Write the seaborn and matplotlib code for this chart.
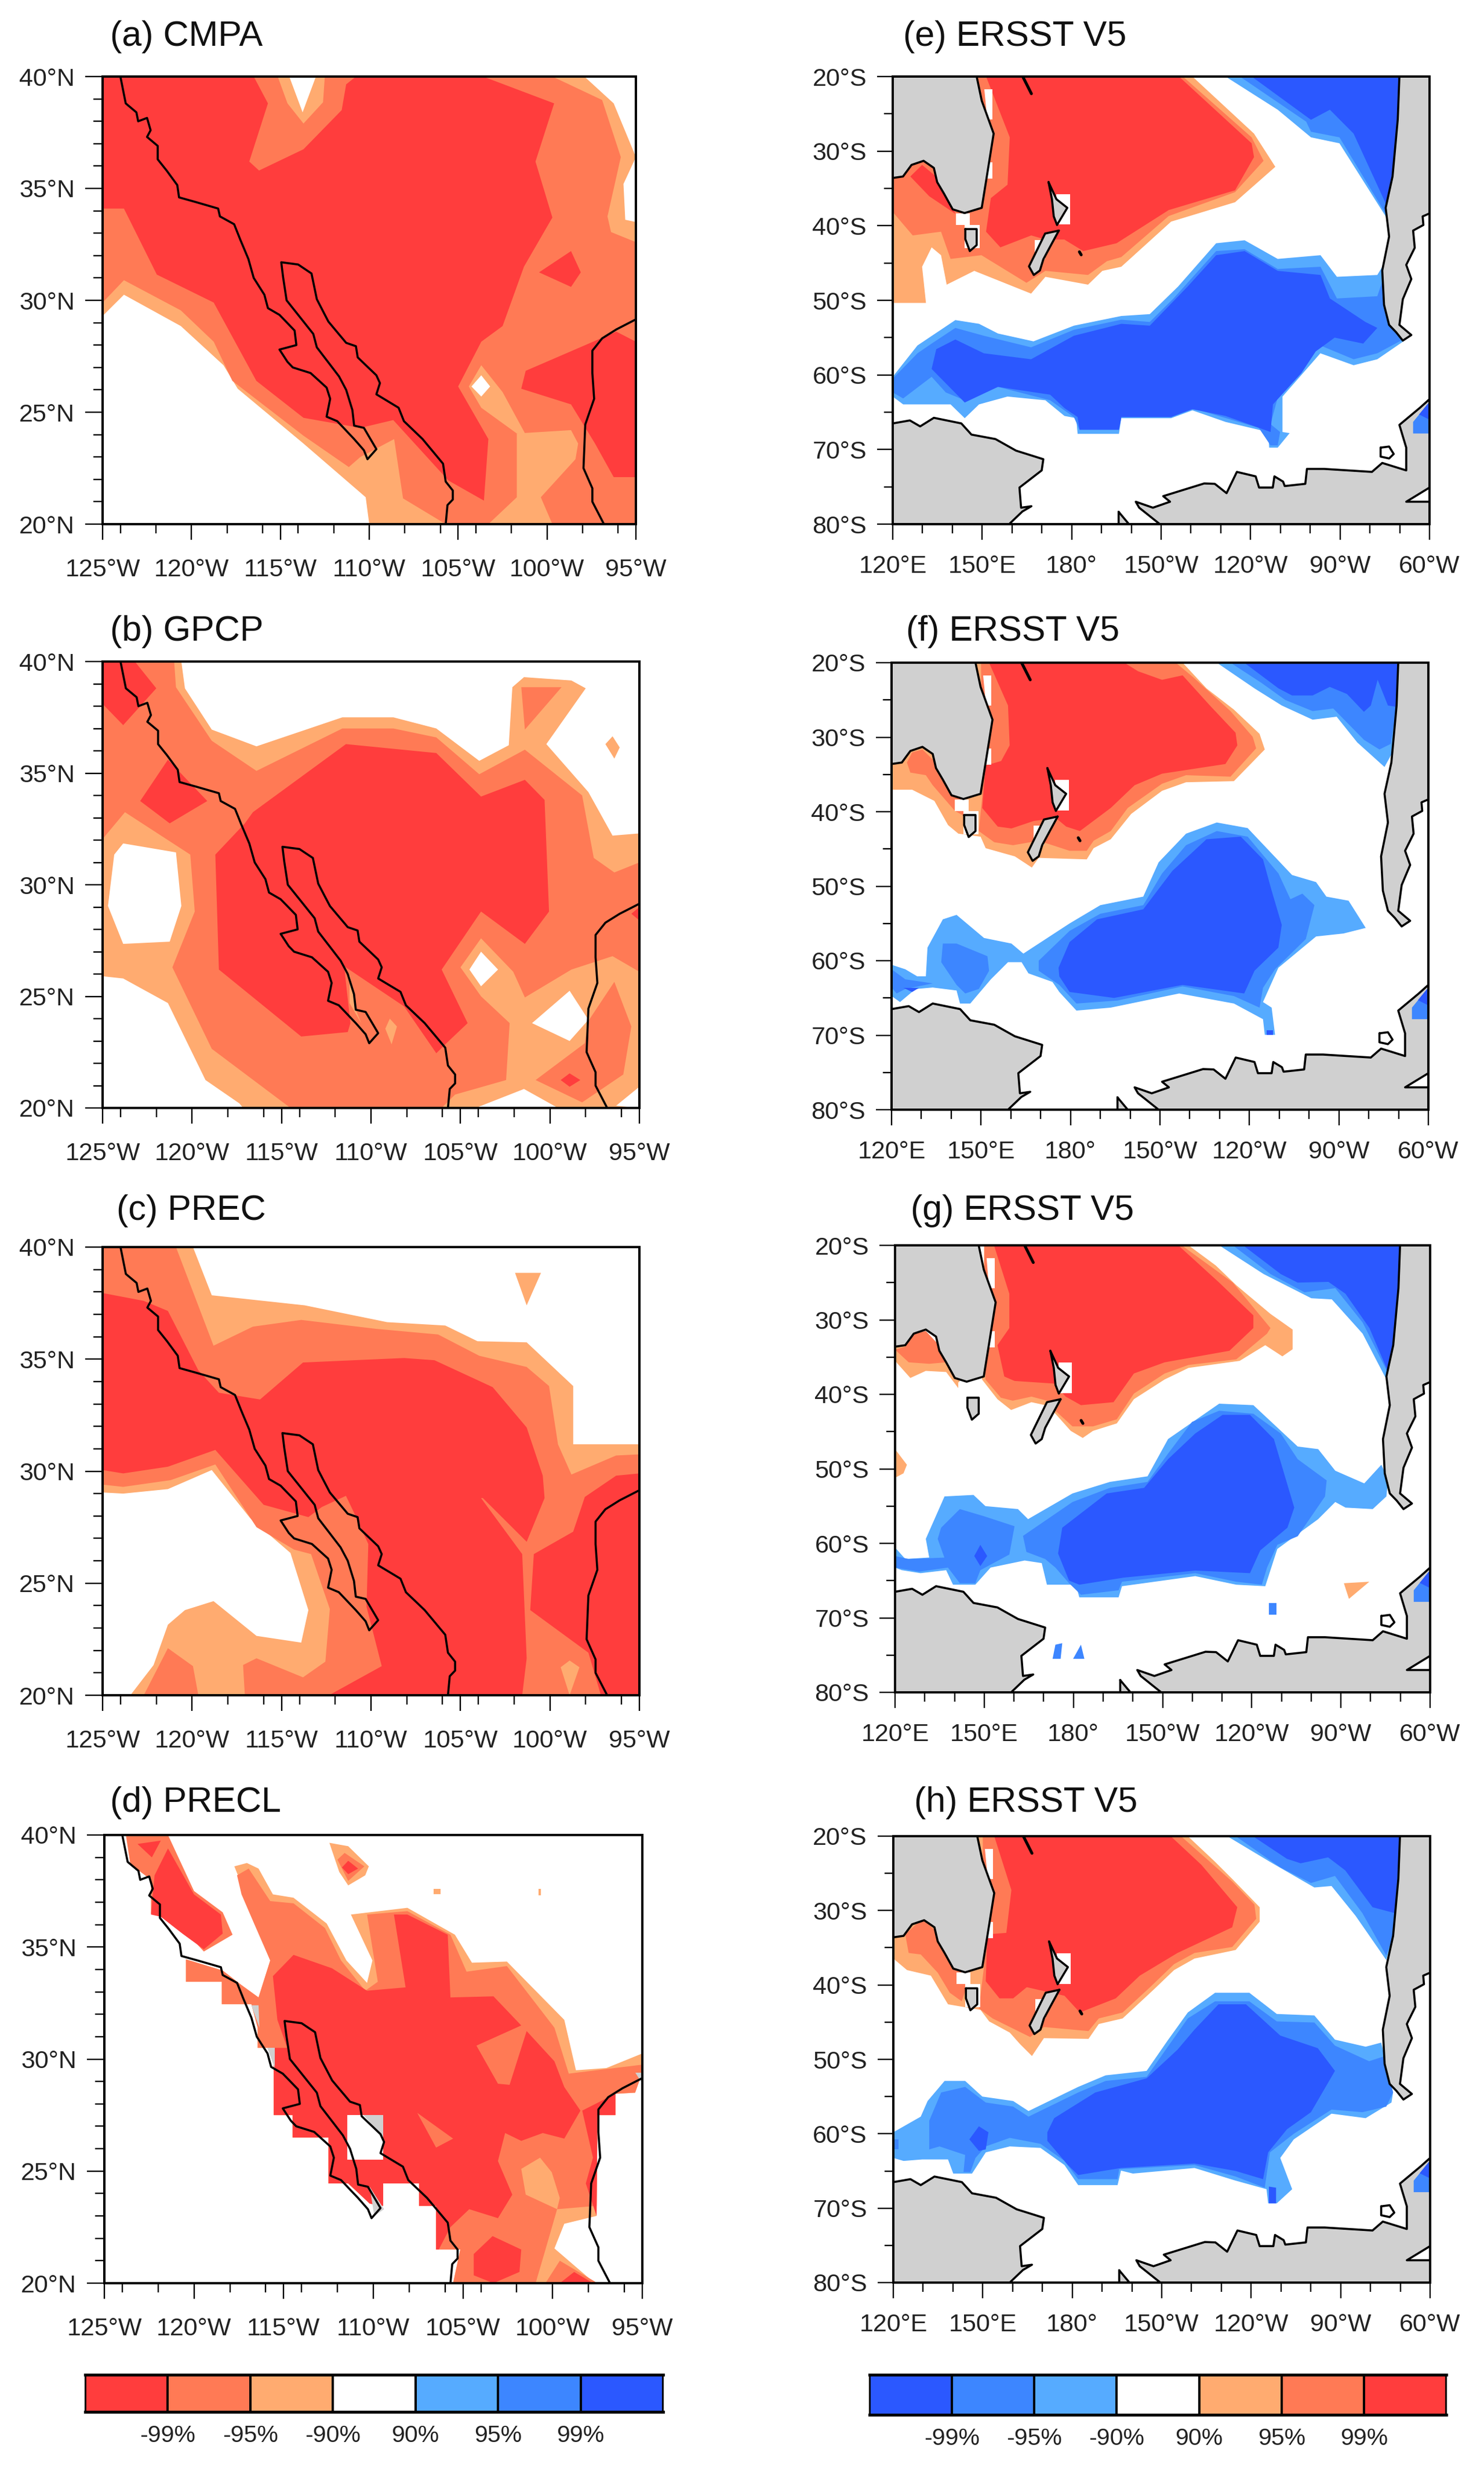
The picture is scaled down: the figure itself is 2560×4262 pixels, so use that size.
import matplotlib
matplotlib.use("Agg")
import matplotlib.pyplot as plt
from matplotlib.colors import ListedColormap
from matplotlib.ticker import FixedLocator
import numpy as np
import seaborn as sns

# significance colours
C99 = "#FF3D3D"; C95 = "#FF7A55"; C90 = "#FFAB70"
B90 = "#56ABFF"; B95 = "#3D86FF"; B99 = "#2B58FF"
WHITE = "#FFFFFF"; LAND = "#D0D0D0"

TITLES_LEFT = ["(a) CMPA", "(b) GPCP", "(c) PREC", "(d) PRECL"]
TITLES_RIGHT = ["(e) ERSST V5", "(f) ERSST V5", "(g) ERSST V5", "(h) ERSST V5"]
NA_XTICKS = [-125, -120, -115, -110, -105, -100, -95]
NA_XLABELS = ["125°W", "120°W", "115°W", "110°W", "105°W", "100°W", "95°W"]
NA_XMINOR = [-124, -122, -118, -116, -114, -112, -108, -106, -104, -102, -98, -96]
NA_YTICKS = [20, 25, 30, 35, 40]
NA_YLABELS = ["20°N", "25°N", "30°N", "35°N", "40°N"]
SP_XTICKS = [120, 150, 180, 210, 240, 270, 300]
SP_XLABELS = ["120°E", "150°E", "180°", "150°W", "120°W", "90°W", "60°W"]
SP_YTICKS = [-80, -70, -60, -50, -40, -30, -20]
SP_YLABELS = ["80°S", "70°S", "60°S", "50°S", "40°S", "30°S", "20°S"]
CB_LEFT = [C99, C95, C90, WHITE, B90, B95, B99]
CB_RIGHT = [B99, B95, B90, WHITE, C90, C95, C99]
CB_LABELS = ["-99%", "-95%", "-90%", "90%", "95%", "99%"]

# ---------- coastlines, North America (lon, lat) ----------
NA_WEST_COAST = [(-124.0,40.0),(-123.8,39.2),(-123.7,38.8),(-123.1,38.4),(-123.0,38.0),(-122.5,38.15),(-122.3,37.6),(-122.5,37.3),(-121.9,36.9),(-121.9,36.3),(-121.4,35.8),(-120.8,35.15),(-120.7,34.6),(-119.8,34.4),(-118.5,34.1),(-118.4,33.75),(-117.6,33.4),(-117.25,32.7),(-116.8,31.85),(-116.5,31.0),(-115.9,30.25),(-115.7,29.65),(-115.05,29.35),(-114.2,28.65),(-114.1,28.0),(-115.05,27.8),(-114.6,27.25),(-114.3,27.0),(-113.3,26.75),(-112.4,26.1),(-112.2,25.6),(-112.4,24.8),(-111.8,24.6),(-110.85,23.8),(-110.3,23.3),(-110.1,22.9),(-109.6,23.35),(-110.3,24.3),(-110.85,24.4),(-110.95,25.1),(-111.3,26.0),(-111.7,26.6),(-112.95,27.9),(-113.15,28.5),(-114.65,30.0),(-114.85,31.05),(-114.95,31.7),(-114.0,31.6),(-113.25,31.2),(-112.95,30.05),(-112.3,29.05),(-111.3,28.1),(-110.75,27.95),(-110.65,27.45),(-109.6,26.65),(-109.4,26.3),(-109.6,25.8),(-108.35,25.2),(-108.05,24.6),(-107.0,23.8),(-105.85,22.7),(-105.7,21.9),(-105.3,21.5),(-105.3,21.1),(-105.6,20.85),(-105.7,20.0)]
NA_EAST_COAST = [(-95.0,29.15),(-96.1,28.7),(-96.9,28.3),(-97.45,27.75),(-97.45,26.75),(-97.35,25.6),(-97.85,24.45),(-97.95,22.5),(-97.45,21.6),(-97.45,21.0),(-96.8,20.0)]

# ---------- panel (a) contour outlines ----------
A_90 = [(-125,29.3),(-123.8,30.25),(-120.6,28.85),(-118.2,27.1),(-117.4,26.05),(-113.7,23.6),(-110.2,21.2),(-110,20),(-95,20),(-95,33.5),(-95.6,33.6),(-95.7,35.2),(-95,36.4),(-96.25,38.8),(-97.9,40),(-125,40)]
A_95 = [(-125,40),(-115.15,40),(-114.6,38.8),(-113.7,37.9),(-112.6,38.85),(-112.5,40),(-99.7,40),(-96.9,38.95),(-95.85,36.4),(-96.6,33.75),(-96.4,33.05),(-95,32.6),(-95,20),(-99.7,20),(-100.35,21.2),(-98.4,22.9),(-98.25,23.6),(-98.65,24.2),(-101.7,24.05),(-101.7,21.2),(-103.3,20),(-105.7,20),(-108.1,21.15),(-108.6,23.8),(-110.5,23),(-111.15,22.55),(-113.7,23.95),(-117.7,26.4),(-118.75,28.15),(-120.6,29.55),(-123.8,30.9),(-125,29.9)]
A_90_INNER = [(-103.7,27.1),(-102.5,25.9),(-101.2,24.0),(-101.7,24.05),(-103.7,25.2),(-104.4,26.15)]
A_99 = [(-125,40),(-116.5,40),(-115.7,38.8),(-116.75,36.2),(-116.2,35.8),(-113.7,36.75),(-111.55,38.5),(-111.3,39.65),(-110.75,40),(-103.6,40),(-99.6,38.8),(-100.65,36.2),(-99.7,33.7),(-101.3,31.5),(-102.5,28.85),(-103.7,28.15),(-105,26.15),(-103.3,23.8),(-103.55,21.05),(-105.55,21.95),(-108.65,24.65),(-110.5,24.3),(-113.7,24.75),(-116.35,26.4),(-118.75,29.9),(-121.95,31.15),(-123.8,34.1),(-125,34.1)]
A_99_EAST = [(-95,28.15),(-96.1,28.6),(-101.2,26.85),(-101.45,26.05),(-98.65,25.35),(-97.3,23.6),(-96.25,22.1),(-95,22.1)]
A_99_SMALL = [(-98.65,32.2),(-100.45,31.25),(-98.65,30.6),(-98.1,31.25)]
A_NONE_TOP = [(-114.5,40),(-113.75,38.4),(-113,40)]
A_NONE_DIAMOND = [(-103.7,26.65),(-103.2,26.15),(-103.7,25.7),(-104.25,26.15)]

# ---------- panel (b) ----------
FULL_NA = [(-125,40),(-95,40),(-95,20),(-125,20)]
B_NONE_TOP = [(-120.6,40),(-120.4,38.8),(-118.9,36.95),(-116.4,36.2),(-111.6,37.5),(-108.75,37.5),(-106.35,37.0),(-103.95,35.55),(-102.3,36.25),(-102.1,38.85),(-101.45,39.3),(-98.8,39.15),(-98.0,38.8),(-100.2,36.3),(-97.85,34.15),(-96.5,32.2),(-95,32.3),(-95,40)]
B_90_DOT = [(-96.5,36.65),(-96.1,36.15),(-96.4,35.65),(-96.9,36.3)]
B_NONE_LEFT = [(-123.85,31.85),(-120.9,31.45),(-120.6,29.05),(-121.25,27.45),(-123.85,27.35),(-124.7,29.05),(-124.35,31.35)]
B_NONE_SW = [(-125,25.9),(-123.85,25.8),(-121.35,24.7),(-119.25,21.25),(-117.35,20.2),(-117.15,20),(-125,20)]
B_NONE_DIAMOND = [(-103.85,27),(-102.9,26.2),(-103.85,25.45),(-104.5,26.2)]
B_95 = [(-125,40),(-121,40),(-120.9,38.85),(-118.9,36.45),(-116.4,35.1),(-111.6,37),(-108.75,37),(-106.35,36.6),(-103.95,34.95),(-101.4,36.05),(-98.2,34),(-97.55,31.2),(-96.4,30.55),(-95,31),(-95,26.1),(-96.5,26.8),(-98.8,26.2),(-101.4,24.95),(-102.05,26.1),(-103.85,27.6),(-105,26.3),(-103.85,25),(-102.25,23.8),(-102.45,21.25),(-105.3,20.6),(-106.05,20),(-114.5,20),(-118.9,22.65),(-121.1,26.3),(-119.85,28.8),(-120.1,31.35),(-123.75,33.25),(-125,32.05)]
B_95_NOTCH = [(-101.6,38.85),(-99.35,38.85),(-101.4,36.95)]
B_95_SE = [(-96.4,25.65),(-95.45,23.65),(-95.9,21.5),(-98.2,20.25),(-100.8,21.25),(-98.05,22.9),(-97.85,23.9)]
B_NONE_SE = [(-98.9,25.25),(-97.85,23.95),(-98.9,23),(-101,23.8)]
B_NONE_S1 = [(-104.15,20),(-101.45,20.85),(-99.55,20)]
B_NONE_S2 = [(-96.3,20.1),(-95,20.95),(-95,20)]
B_99_NW = [(-125,40),(-123.2,40),(-122,38.8),(-123.85,37.15),(-125,38.1)]
B_99_W = [(-121.35,35.6),(-119.15,33.75),(-121.25,32.75),(-122.9,33.75)]
B_99_MAIN = [(-111.4,36.3),(-106.35,35.9),(-103.85,33.95),(-101.4,34.7),(-100.3,33.8),(-100.05,28.8),(-101.4,27.35),(-103.85,28.8),(-106.05,26.2),(-104.6,23.8),(-105.85,22.85),(-106.35,22.45),(-108.15,24.55),(-111.5,26.35),(-111.15,23.8),(-111.3,23.4),(-113.9,23.2),(-118.5,26.2),(-118.7,31.35),(-117.05,32.75),(-116.6,33.25)]
B_99_DOT = [(-98.9,21.55),(-98.3,21.25),(-98.9,20.95),(-99.4,21.25)]
B_99_E = [(-95,29),(-95.45,28.7),(-95,28.4)]
B_90_S1 = [(-108.95,24),(-108.55,23.65),(-108.85,22.85),(-109.2,23.55)]
B_90_S2 = [(-111.2,26),(-110.95,25.1),(-110.85,24.4),(-110.55,23.8),(-111.2,24.7)]

# ---------- panel (c) ----------
C_NONE_TOP = [(-119.95,40),(-118.9,37.85),(-113.7,37.4),(-109.1,36.65),(-105.85,36.5),(-104.05,35.8),(-101.3,35.75),(-98.7,33.8),(-98.7,31.2),(-95,31.2),(-95,40)]
C_90_DOT = [(-101.95,38.85),(-100.5,38.85),(-101.3,37.4)]
C_NONE_SW = [(-125,29.05),(-123.85,29),(-121.35,29.2),(-118.9,30.05),(-116.75,27.9),(-114.5,26.35),(-113.5,23.8),(-113.9,22.35),(-116.4,22.65),(-118.8,24.2),(-120.4,23.8),(-121.35,23.15),(-122.15,21.35),(-123.45,20),(-125,20)]
C_95 = [(-125,40),(-120.9,40),(-118.8,35.6),(-116.6,36.45),(-113.9,36.75),(-109.7,36.35),(-106.25,36.1),(-103.95,35.15),(-101.3,34.65),(-100.05,33.8),(-99.55,31.2),(-98.8,29.85),(-96.3,30.7),(-95,30.75),(-95,20),(-117.05,20),(-117.15,21.35),(-116.4,21.65),(-113.8,20.8),(-112.55,21.5),(-112.3,23.85),(-113.35,26.3),(-114.3,26.5),(-116.4,27.5),(-118.7,30.3),(-121.2,29.6),(-123.85,29.3),(-125,29.4)]
C_95_SW = [(-122.7,20),(-121.35,22.1),(-119.95,21.3),(-119.65,20)]
C_99_MAIN = [(-125,37.95),(-122.7,37.6),(-121.35,37.15),(-119.65,34.5),(-118.5,33.5),(-116.2,33.2),(-113.8,34.85),(-108.15,35.05),(-106.45,34.95),(-103.2,33.75),(-101.3,31.95),(-100.4,29.8),(-100.3,28.8),(-101.3,26.85),(-103.75,28.8),(-103.85,28.8),(-101.55,26.3),(-101.3,21.65),(-101.55,20),(-112.35,20),(-109.4,21.3),(-110.25,23.95),(-110.15,26.75),(-110.95,28.15),(-111.4,28.9),(-112.75,28.4),(-113.5,27.95),(-116,28.5),(-118.7,30.95),(-121.35,30.2),(-123.85,29.9),(-125,30.05)]
C_99_E = [(-95,29.9),(-96.3,29.8),(-98.05,28.85),(-98.7,27.3),(-100.9,26.3),(-101.1,23.8),(-97.85,21.9),(-97.15,20),(-95,20)]
C_90_S = [(-98.9,21.55),(-98.35,21.25),(-98.9,20),(-99.4,21.25)]

# ---------- panel (d) ----------
D_95_NW = [(-123.8,40),(-121.45,40),(-120,37.5),(-118.4,36.55),(-117.85,35.55),(-119.45,34.8),(-120.5,35.7),(-121.85,36.35),(-122.4,36.5),(-122.4,38),(-123.55,38.7)]
D_99_NW = [(-122.2,38.2),(-121.45,39.4),(-120,37.35),(-118.5,36.45),(-118.4,35.6),(-119.45,34.9),(-120.65,35.6),(-121.85,36.35),(-122.4,36.45)]
D_99_NW2 = [(-123.15,39.6),(-121.85,39.75),(-122.35,39)]
D_90_MAIN = [(-111.25,36.45),(-108.1,36.75),(-105.45,35.55),(-104.5,34.3),(-102.55,34.35),(-99.35,31.75),(-98.7,29.5),(-97,29.6),(-95,30.25),(-95,29.4),(-95.4,28.5),(-96.5,28.45),(-96.5,27.5),(-97.5,27.5),(-97.55,23),(-99.35,22.65),(-99.9,21.55),(-97.65,20),(-105.55,20),(-105.15,21.5),(-106.5,21.5),(-106.5,23.45),(-107.45,23.45),(-107.45,24.45),(-109.45,24.45),(-109.45,23.45),(-110.2,23.55),(-111.4,24.45),(-112.5,24.45),(-112.5,26.5),(-114.5,26.5),(-114.5,27.5),(-115.55,27.5),(-115.55,30.5),(-116.45,30.5),(-116.45,31.4),(-116.8,32.45),(-118.45,32.45),(-118.45,33.45),(-120.45,33.45),(-120.45,34.45),(-118.4,33.95),(-117.35,33.3),(-116.4,32.75),(-115.75,34.4),(-116,34.9),(-117.05,37.2),(-117.75,38.6),(-117.05,38.75),(-116.4,38.5),(-115.6,37.35),(-114.45,37.2),(-112.6,36.05),(-111.5,34.4),(-110.35,33.4),(-110.05,34.4)]
D_95_MAIN = [(-110.35,36.45),(-108.1,36.6),(-105.7,35.55),(-104.8,33.9),(-102.55,34.15),(-99.9,31.4),(-99.1,29.35),(-95,29.75),(-95,29.4),(-95.4,28.5),(-96.5,28.45),(-96.5,27.5),(-97.5,27.5),(-97.55,23.45),(-99.75,23.3),(-100.4,21.5),(-100.95,20),(-105.55,20),(-105.15,21.5),(-106.5,21.5),(-106.5,23.45),(-107.45,23.45),(-107.45,24.45),(-109.45,24.45),(-109.45,23.45),(-110.2,23.55),(-111.4,24.45),(-112.5,24.45),(-112.5,26.5),(-114.5,26.5),(-114.5,27.5),(-115.55,27.5),(-115.55,30.5),(-116.45,30.5),(-116.45,31.4),(-116.8,32.45),(-118.45,32.45),(-118.45,33.45),(-120.45,33.45),(-120.45,34.45),(-118.4,33.95),(-117.35,33.3),(-116.4,32.75),(-115.75,34.4),(-116.65,36.05),(-117.35,37.35),(-117.6,38.2),(-116.95,38.5),(-115.75,37.05),(-114.45,36.95),(-112.7,35.85),(-111.8,34.4),(-110.45,33.05),(-109.75,33.45)]
D_99_MAIN = [(-115.6,33.7),(-114.45,34.65),(-112.3,34.05),(-110.35,33.05),(-108.2,33.2),(-108.85,36.45),(-108.1,36.45),(-105.85,35.55),(-105.7,32.75),(-103.3,32.8),(-101.75,31.5),(-104.25,30.6),(-103.05,28.9),(-102.4,28.85),(-101.45,31.25),(-99.9,29.9),(-99.35,28.75),(-98.45,27.7),(-99.35,26.45),(-100.55,26.7),(-101.75,26.35),(-102.65,26.7),(-103.05,25.45),(-102.25,23.95),(-103.05,22.9),(-104.65,23.3),(-105.7,22.5),(-106.35,21.5),(-106.5,21.5),(-106.5,23.45),(-107.45,23.45),(-107.45,24.45),(-109.45,24.45),(-109.45,23.45),(-110.2,23.55),(-111.4,24.45),(-112.5,24.45),(-112.5,26.5),(-114.5,26.5),(-114.5,27.5),(-115.55,27.5),(-115.55,30.5),(-114.8,30.5),(-115.35,31.75)]
D_95_PATCH = [(-107.55,27.6),(-105.55,26.45),(-106.5,26.05)]
D_99_E = [(-98.35,27.7),(-96.5,28.45),(-96.5,27.5),(-97.5,27.5),(-97.55,23),(-98.15,24.45),(-97.75,25.6)]
D_NONE_HOLE = [(-111.45,27.5),(-109.45,27.5),(-109.45,25.5),(-111.45,25.5)]
D_LAND_1 = [(-110.55,27.5),(-109.45,27.5),(-109.45,26.5)]
D_LAND_2 = [(-110.2,24.3),(-109.4,23.3),(-109.95,23)]
D_LAND_3 = [(-116.8,32.4),(-116.4,32.4),(-116.35,31.4)]
D_LAND_4 = [(-115.9,30.5),(-115.5,30.5),(-115.5,29.6)]
D_LAND_5 = [(-95.4,29.4),(-95,29.4),(-95,28.9)]
D_90_ISLE = [(-112.45,39.65),(-111.4,39.5),(-110.25,38.6),(-110.45,38.2),(-111.4,37.75),(-111.9,38.35)]
D_95_ISLE = [(-111.6,39.2),(-110.5,38.6),(-111.4,37.95),(-112,38.9)]
D_99_ISLE = [(-111.4,38.85),(-110.85,38.5),(-111.4,38.25),(-111.75,38.55)]
D_90_DOT = [(-106.65,37.6),(-106.25,37.6),(-106.25,37.35),(-106.65,37.35)]
D_90_DOT2 = [(-100.8,37.6),(-100.65,37.6),(-100.65,37.3),(-100.8,37.3)]
D_90_SE = [(-101.75,25.1),(-100.7,25.6),(-100.05,24.95),(-99.6,23.8),(-99.75,23.3),(-101.5,23.95)]
D_99_S = [(-103.35,22.1),(-101.75,21.5),(-101.85,20.5),(-103.3,20),(-104.4,20.35),(-104.4,21.3)]
D_95_S2 = [(-100.4,20),(-99.6,21),(-97.6,20.05)]
D_99_S2 = [(-99.6,20),(-98.8,20.5),(-97.75,20)]

# ---------- land, South Pacific ----------
AUSTRALIA = [(120,-33.6),(123.45,-33.4),(126.3,-31.85),(130.35,-31.3),(133.8,-32.25),(134.9,-34.15),(137.2,-35.7),(140.1,-37.8),(144.1,-38.3),(149.85,-37.6),(151.55,-33.4),(153.85,-27.65),(149.85,-23.25),(148.15,-20),(120,-20)]
TASMANIA = [(144.35,-40.45),(148.15,-40.45),(148.15,-42.6),(145.85,-43.4),(144.35,-41.8)]
NZ_NORTH = [(172.25,-34.15),(174.9,-36.45),(178.55,-37.6),(175.1,-39.9),(174,-38.75),(173.4,-36.45)]
NZ_SOUTH = [(175.7,-40.65),(170.5,-44.5),(169.35,-46),(167.3,-46.6),(165.7,-45.45),(171.1,-41.05)]
S_AMERICA = [(289.9,-20),(289.35,-25.75),(287.6,-33.4),(285.3,-37.6),(286.45,-41.45),(284.15,-46),(284.75,-50.6),(286.45,-53.3),(288.75,-54.25),(291.05,-55.4),(293.9,-54.65),(289.9,-53.3),(291.05,-49.85),(293.9,-47.15),(292.2,-45.25),(295.05,-42.95),(294.5,-40.65),(297.95,-39.9),(297.7,-38.75),(300,-38.35),(300,-20)]
ANT_EAST = [(120,-66.5),(125.75,-66.1),(129.2,-66.9),(133.8,-65.75),(143,-66.5),(146.4,-68),(154.45,-68.6),(161.35,-70.15),(170.5,-71.3),(169.95,-72.8),(162.5,-75.1),(163.05,-77.8),(166.5,-77.6),(163.5,-78.3),(159.05,-80),(120,-80)]
ANT_WEST = [(209.55,-80),(202.65,-77.8),(201.5,-77),(207.25,-77.8),(213,-77),(210.7,-76.25),(224.45,-74.55),(228,-74.6),(231.95,-75.85),(235.4,-73),(241.7,-73.6),(242.85,-75.1),(247.45,-75.1),(248,-73.6),(250.9,-74.3),(251.45,-74.9),(258.35,-74.6),(258.9,-72.6),(264.65,-72.6),(280.7,-73),(284.15,-71.8),(292.2,-72.8),(292.2,-69.75),(289.9,-66.7),(296.8,-64.4),(300,-63.25),(300,-75.1),(292.2,-77),(300,-77),(300,-80)]
ROSS_ISLE = [(195.75,-78.35),(199.2,-80),(195.75,-80)]
PEN_LOOP = [(283.6,-69.75),(286.45,-69.6),(288,-70.6),(286.45,-71.2),(283.6,-70.95)]
NEW_CALEDONIA = [(163.6,-20),(166.5,-22.3)]
CHATHAM = [(182.6,-43.5),(183.2,-43.9)]
GAP_NZ_N = [(174.9,-35.75),(179.45,-35.75),(179.45,-39.85),(174.9,-39.85)]
GAP_NZ_S = [(167.65,-41.9),(171.1,-41.9),(171.1,-44.5),(167.65,-44.5)]
GAP_TAS = [(144.1,-39.9),(149.25,-39.9),(149.25,-43),(144.1,-43)]
GAP_BASS = [(141.25,-38.35),(145.85,-38.35),(145.85,-39.9),(141.25,-39.9)]
GAP_AUS_1 = [(150.8,-21.7),(153.5,-21.7),(153.5,-25.75),(151.6,-25.75)]
GAP_AUS_2 = [(151.6,-31.5),(153.5,-31.5),(153.5,-33.7),(151.6,-33.7)]
PENINSULA_95 = [(300,-63.6),(294.5,-66.3),(294.5,-67.85),(300,-67.85)]
PENINSULA_99 = [(300,-63.6),(296.5,-65.3),(300,-66)]

# ---------- panel (e) ----------
E_90 = [(120,-50.35),(131.15,-50.35),(129.85,-45.5),(133.05,-42.9),(136.2,-43.95),(138.1,-47.9),(147.35,-46.05),(166.4,-49.1),(171.2,-46.85),(185.5,-47.9),(190.3,-46.05),(196.65,-45.5),(213.35,-39.45),(234.8,-36.85),(248.3,-32.1),(241.15,-27.65),(220.5,-20),(120,-20)]
E_95 = [(120,-38.15),(126.7,-41.3),(136.2,-40.8),(139.4,-44.45),(149.75,-43.95),(164.85,-47.65),(171.2,-46.05),(185.5,-46.6),(191.85,-44.75),(196.65,-44.2),(212.55,-38.7),(234.8,-35.5),(244.35,-31.3),(240.35,-28.15),(217.3,-20),(120,-20)]
E_99 = [(151.3,-20),(159.25,-28.15),(158.5,-34.5),(152.9,-36.3),(151.3,-40.8),(156.1,-42.9),(166.45,-41.3),(171.2,-41.85),(177.55,-41.85),(183.9,-43.4),(195.05,-42.35),(212.55,-37.9),(234.8,-35.25),(241.15,-30.8),(240.35,-28.95),(216,-20)]
E_99_W = [(125.9,-33.4),(129.85,-31.85),(136.2,-33.95),(141,-38.4),(132.25,-36.05)]
E_B90_NE = [(231.6,-20),(249.1,-24.45),(260.25,-28.15),(269.8,-28.95),(286.5,-39.5),(289.65,-27.1),(291,-20)]
E_B95_NE = [(236.4,-20),(258.65,-26.05),(260.25,-27.4),(269.8,-28.15),(286.5,-39.2),(289.65,-27.1),(290.5,-20)]
E_B99_NE = [(240.35,-20),(260.25,-25.8),(266.6,-24.45),(274.55,-27.65),(285.7,-37.35),(289.65,-27.1),(290.45,-20)]
E_B90 = [(120,-60.25),(128.3,-56.05),(141,-52.65),(148.95,-53.15),(155.3,-54.45),(167.2,-55.5),(180.75,-53.4),(196.65,-52.1),(206.2,-51.85),(215.7,-48.15),(228.45,-42.35),(238,-41.95),(249.1,-44.45),(263.45,-43.95),(268.95,-46.85),(282.5,-46.6),(284.9,-45),(286.5,-52.35),(291.25,-55.5),(282.5,-57.9),(274.55,-58.7),(263.4,-57.1),(250.7,-62.9),(250.7,-67.65),(253.1,-67.8),(249.1,-69.75),(246.25,-69.75),(245.9,-67.65),(231.6,-66.3),(220.5,-64.75),(213.35,-65.8),(196.65,-65.8),(195.85,-67.9),(182,-67.9),(181.55,-65.8),(177.6,-65.5),(171.2,-63.4),(158.5,-62.9),(148.95,-63.95),(144.15,-65.8),(139.4,-63.95),(123.5,-63.95),(120,-62.9)]
E_B95 = [(120,-60.5),(128.3,-57.1),(133.05,-55.8),(141,-53.7),(150.55,-54.75),(166.4,-56.3),(180.75,-53.95),(196.65,-52.6),(206.2,-52.9),(214.15,-49.75),(228.45,-43.4),(238,-43.15),(249.1,-45.8),(263.45,-45.5),(268.95,-49.75),(282.5,-49.45),(284.9,-46.6),(286.5,-52.9),(290.45,-55.4),(282.5,-57.1),(274.55,-57.9),(263.4,-56.05),(249.9,-61.85),(246.7,-66.6),(249.9,-67.65),(249.1,-69.45),(246.7,-69.45),(242.75,-67.1),(220.5,-64.45),(213.35,-65.65),(196.65,-65.65),(195.85,-67.35),(182.65,-67.35),(180.75,-65.65),(172.8,-63.4),(155.3,-61.6),(144.15,-63.4),(137.8,-62.35),(133.05,-60.25),(123.5,-63.15),(120,-62.35)]
E_B99 = [(133.05,-59.2),(134.6,-56.55),(141,-55.25),(150.55,-57.1),(166.4,-57.9),(180.75,-54.75),(196.65,-53.15),(206.2,-53.4),(218.9,-48.15),(228.45,-43.95),(238,-43.4),(249.1,-46.05),(263.45,-46.6),(266.6,-49.75),(278.5,-52.9),(282.5,-53.7),(277.75,-55.8),(268.2,-55),(261.85,-56.85),(257.05,-59.75),(247.5,-63.95),(246.7,-67.65),(231.6,-65.5),(220.5,-64.6),(213.35,-65.65),(196.65,-65.65),(195.85,-67.35),(182.65,-67.35),(182,-65.65),(177.6,-64.45),(172.8,-62.65),(155.3,-61.6),(144.15,-63.7)]

# ---------- panel (f) ----------
F_90 = [(120,-37.05),(126.9,-37.05),(134.35,-38.55),(138.95,-41.8),(142.4,-42.95),(149.85,-43.35),(151.55,-44.9),(161.35,-46),(167.05,-47.5),(169.35,-46.2),(185.45,-46.4),(187.75,-44.9),(193.5,-43.7),(200.35,-40.3),(210.7,-37.2),(218.75,-36.05),(234.8,-35.9),(245.15,-31.65),(243.4,-29.55),(234.8,-26.3),(225.6,-23.45),(217.6,-20),(120,-20)]
F_95 = [(150.4,-38),(149.25,-42.6),(154.45,-44.1),(160.75,-44.5),(169.35,-43.9),(173.95,-44.5),(179.7,-45.25),(185.45,-45.25),(187.75,-43.9),(193.5,-42.6),(199.2,-39.5),(210.7,-36.25),(218.75,-35.1),(233.65,-35.3),(242.25,-31.5),(241.1,-29.95),(233.65,-26.5),(221,-21.9),(215.3,-20),(150,-20)]
F_95_W = [(126.3,-34.75),(131.5,-35.1),(133.8,-36.45),(141.25,-39.9),(144.7,-40.65),(145.85,-38.75),(139.5,-37.6),(133.8,-33),(130.35,-31.65),(126.9,-32.05),(125.15,-33.4)]
F_99 = [(152.7,-20),(159.05,-25.75),(159.6,-31.1),(156.75,-33.2),(151.55,-33.8),(150.4,-39.5),(155.6,-42),(160.2,-42.25),(167.65,-41.25),(175.1,-40.85),(178.55,-42),(183.15,-42.6),(193.5,-39.5),(201.5,-36.45),(210.7,-34.9),(231.95,-33.6),(235.95,-31.1),(235.35,-29.4),(226.75,-25.75),(217.6,-21.7),(210.7,-22.3),(202.65,-21.15),(198.05,-20)]
F_B90_NE = [(229.05,-20),(241.7,-23.45),(250.85,-25.75),(261.2,-27.65),(269.25,-27.25),(276.15,-30.7),(285.3,-34),(288.75,-31.5),(289.9,-20)]
F_B95_NE = [(233.65,-20),(244,-22.7),(252,-25),(261.2,-26.5),(268.1,-26.15),(278.4,-30.35),(283.6,-31.65),(287.4,-30.9),(289.35,-25.75),(289.9,-20)]
F_B99_NE = [(238.25,-20),(249.75,-23.45),(254.3,-24.4),(261.2,-24.4),(266.95,-23.25),(272.7,-24.2),(278.4,-26.6),(280.7,-25.75),(283,-22.3),(286.45,-25.75),(289.65,-25.95),(289.9,-20)]
F_B90 = [(120,-60.55),(124.6,-61.15),(128.6,-62.1),(131.5,-62.1),(132.05,-58.25),(137.2,-54.45),(141.8,-53.85),(151,-56.95),(160.2,-57.7),(164.2,-59.05),(179.7,-55),(190,-52.55),(204.4,-51.4),(209.55,-46.8),(218.75,-42.95),(229.05,-41.45),(239.4,-42.2),(254.3,-48.5),(262.35,-49.45),(265.8,-51.4),(273.25,-51.95),(279,-55.6),(271.55,-56.35),(262.35,-56.75),(249.7,-60.95),(244.55,-65.55),(247.45,-66.3),(248.6,-69.95),(245.15,-69.95),(244.55,-67.85),(234.8,-65.75),(216.45,-64.4),(193.5,-66.3),(182,-66.7),(176.25,-64.2),(173.95,-62.85),(165.9,-61.7),(163.6,-60.2),(159.05,-60.2),(153.3,-62.5),(146.4,-65.75),(142.95,-65.75),(141.8,-64),(133.8,-63.6),(128.05,-63.8),(122.85,-65.55),(120,-64.75)]
F_B95 = [(169.35,-60),(179.7,-56),(190,-53.7),(204.4,-52.55),(210.7,-48.3),(218.75,-44.5),(229.05,-42.6),(239.4,-43.35),(249.75,-48.3),(253.75,-51.75),(257.75,-51),(261.8,-52.55),(258.9,-57.1),(248.6,-61.15),(244.55,-63.65),(243.4,-66.3),(234.8,-64.75),(217.6,-63.45),(195.75,-65.35),(182,-65.75),(176.25,-63.25),(169.35,-61.35)]
F_B95_L = [(137.2,-57.7),(141.8,-57.7),(152.15,-59.4),(152.7,-61.35),(149.25,-63.8),(144.7,-64.4),(141.8,-63.25),(136.65,-60.2)]
F_B95_W = [(120,-61.15),(124.6,-62.5),(133.8,-63.05),(124.6,-63.8),(121.7,-64.4),(120,-63.6)]
F_B99_W = [(124,-63.65),(129.2,-63.65),(126.9,-64.2)]
F_B99 = [(176,-60.95),(179.7,-57.5),(188.9,-54.45),(204.4,-53.1),(214.15,-47.95),(225.6,-43.7),(237.1,-43.35),(244.55,-46.4),(247.45,-50.6),(250.85,-55.2),(249.7,-58.25),(241.7,-61.35),(238.25,-64.4),(217.6,-63.25),(194.6,-65),(179.7,-64.2),(176.25,-62.1)]
F_B99_TIP = [(245.7,-69.35),(248,-69.35),(248,-69.95),(245.7,-69.95)]

# ---------- panel (g) ----------
G_90_W = [(120,-33.8),(120,-35.5),(125.15,-37.8),(130.35,-36.85),(137.2,-37),(141.25,-39.15),(141.8,-38),(133.8,-33),(126.9,-31.5)]
G_95_W = [(120,-34),(124.6,-35.7),(131.5,-35.9),(137.2,-35.7),(134.35,-33.2),(130.35,-31.5),(125.75,-31.85),(123.45,-33.6)]
G_90 = [(149.25,-38),(154.45,-40.65),(159.05,-42.1),(165.9,-41.05),(170.5,-41.45),(173.95,-42.6),(179.1,-44.9),(183.15,-45.85),(186.6,-44.9),(194.6,-43.9),(200.35,-40.65),(210.7,-38),(218.75,-36.45),(235.95,-35.5),(244.55,-33.4),(250.3,-34.9),(253.75,-33.95),(253.75,-31.3),(246.3,-29.2),(234.8,-25.35),(227.9,-22.7),(218.75,-20),(150,-20)]
G_95 = [(150.4,-38),(155.6,-40.45),(159.6,-40.85),(165.9,-40.3),(171.1,-40.85),(173.95,-42.2),(179.7,-44.3),(186.6,-44.3),(194.6,-43.35),(200.35,-39.9),(210.7,-37.2),(218.75,-36.05),(234.8,-35.3),(245.15,-31.85),(246.3,-31.1),(233.65,-25),(216.45,-20),(150,-20)]
G_99 = [(153.3,-20),(158.45,-26.5),(158.45,-31.1),(154.45,-33.4),(156.75,-37.6),(160.2,-38.2),(173.4,-38.55),(177.4,-40.3),(182.55,-41.45),(193.5,-41.05),(200.35,-37.2),(210.7,-35.7),(232.5,-34.15),(240.55,-31.1),(240.55,-29.4),(229.05,-25),(215.3,-20)]
G_90_W2 = [(120,-47.35),(124,-49.45),(122.85,-50.6),(120,-51.2)]
G_90_E = [(271,-65.35),(279.55,-65.15),(272.7,-67.45)]
G_B90_NE = [(229.05,-20),(244,-23.85),(260.05,-27.1),(266.95,-27.25),(277.3,-31.85),(285.3,-38),(288.2,-33.4),(289.9,-20)]
G_B95_NE = [(233.65,-20),(246.3,-23.85),(257.75,-26.3),(268.1,-25.75),(277.3,-30.35),(285.9,-37.2),(288.2,-33.4),(289.9,-20)]
G_B99_NE = [(237.1,-20),(249.75,-23.85),(255.45,-25),(265.8,-24.9),(271.55,-26.5),(279.6,-31.1),(285.9,-37),(288.2,-33.4),(289.9,-20)]
G_B90 = [(120,-60.55),(123.45,-62.1),(131.5,-61.9),(130.35,-59.4),(136.65,-53.7),(146.4,-53.5),(150.4,-55),(161.35,-55.4),(164.75,-56.75),(179.7,-53.3),(192.3,-51.75),(204.95,-51),(211.85,-46),(229.05,-41.25),(240.55,-41.45),(255.45,-47),(262.35,-47.35),(268.1,-50.25),(277.85,-51.95),(283.6,-49.45),(285.9,-51.4),(285.3,-53.7),(280.7,-55.4),(271.55,-55.2),(268.1,-54.45),(262.35,-56.75),(248.6,-60.75),(244.55,-65.75),(234.8,-65.55),(221,-64.4),(196.35,-65.75),(195.2,-67.25),(182,-67.25),(180.85,-65.55),(171.1,-65.55),(169.35,-62.65),(163.6,-62.3),(152.15,-63.25),(147,-65.55),(139.5,-65.55),(137.2,-63.6),(128.6,-64),(122.3,-63.6),(120,-63.25)]
G_B95 = [(163.05,-59),(179.7,-54.45),(192.3,-52.55),(204.95,-51.75),(211.85,-47.95),(219.9,-43.7),(229.05,-42.2),(240.55,-42.6),(249.75,-45.25),(255.45,-48.7),(265.2,-51.55),(264.65,-53.7),(255.45,-59.05),(248.6,-60.2),(245.15,-63.25),(243.4,-65.55),(234.8,-65.15),(221,-64),(196.35,-65.15),(195.2,-66.3),(182.55,-66.9),(178.55,-65.35),(173.95,-63.25),(170.5,-62.1),(164.2,-61.15)]
G_B95_L = [(141.8,-55.4),(149.85,-56.35),(160.2,-57.7),(158.45,-61.5),(148.7,-63.6),(147,-65.35),(141.8,-65.35),(137.8,-63.25),(134.35,-59.4),(135.5,-57.9)]
G_B95_W = [(120,-61.7),(124.6,-62.1),(137.2,-61.9),(137.8,-63.25),(128.05,-63.8),(120,-63.25)]
G_B99_L = [(148.7,-60.2),(151,-61.7),(148.7,-63.05),(146.65,-61.7)]
G_B99 = [(174.85,-61.35),(176.25,-57.9),(191.2,-53.3),(203.8,-52.55),(211.85,-48.7),(221,-45.25),(230.2,-42.75),(239.4,-42.75),(247.45,-46),(249.75,-49.1),(254.3,-55.2),(252,-57.9),(242.85,-60.95),(239.4,-64),(221,-63.65),(196.9,-64.6),(182,-65.55),(178.55,-65)]
G_B95_D1 = [(245.7,-68),(248.35,-68),(248.35,-69.55),(245.7,-69.55)]
G_B95_D2 = [(173.95,-73.6),(176.25,-73.4),(175.7,-75.5),(173,-75.5)]
G_B95_D3 = [(182.55,-73.6),(183.7,-75.5),(179.9,-75.5)]

# ---------- panel (h) ----------
H_90 = [(120,-36.45),(124.6,-38),(132.6,-38.75),(138.35,-42.6),(149.25,-43.35),(152.15,-44.9),(159.05,-46.4),(162.5,-47.95),(166.5,-49.55),(170.5,-47.15),(185.45,-47.25),(188.9,-45.25),(196.9,-44.5),(207.25,-40.65),(214.15,-38),(221,-36.45),(234.8,-35.3),(242.85,-31.5),(242.85,-29.55),(233.65,-25.75),(227.9,-23.45),(218.75,-20),(120,-20)]
H_95_W = [(124,-33.2),(125.15,-35.7),(129.2,-35.9),(134.9,-38.35),(138.95,-41.05),(142.95,-42.2),(145.85,-38.75),(139.5,-37.2),(133.8,-32.6),(129.75,-31.1)]
H_95 = [(150.4,-37.6),(148.7,-43.15),(153.3,-44.5),(165.9,-47),(170.5,-45.65),(185.45,-46.2),(188.9,-44.5),(196.9,-43.7),(206.1,-40.3),(214.15,-37.2),(221,-35.7),(233.65,-34.9),(241.7,-31.1),(241.1,-29.2),(233.65,-26.1),(216.45,-20),(150,-20)]
H_99 = [(153.85,-20),(159.6,-27.25),(157.9,-33),(151.55,-33.2),(151,-39.5),(155.6,-41.8),(160.2,-41.8),(164.75,-40.3),(177.4,-41.45),(182.55,-43.7),(194.6,-41.8),(202.65,-38.75),(215.3,-35.7),(233.65,-32.25),(235.35,-29.55),(223.3,-23.85),(213,-20)]
H_B90_NE = [(231.95,-20),(246.3,-23.45),(261.2,-26.9),(266.95,-26.7),(275,-30.7),(285.3,-36.65),(288.2,-32.65),(289.9,-20)]
H_B95_NE = [(234.8,-20),(249.75,-24.2),(260.05,-26.3),(268.1,-25.35),(277.3,-30.35),(285.3,-36.05),(288.2,-32.65),(289.9,-20)]
H_B99_NE = [(240.55,-20),(252,-23.05),(256.6,-23.65),(265.8,-22.85),(271.55,-24.6),(280.7,-29.55),(288.2,-30.35),(289.9,-20)]
H_B90 = [(120,-59.8),(129.2,-57.7),(131.5,-55.6),(137.2,-52.9),(144.1,-52.9),(149.85,-55),(160.2,-55.6),(165.35,-56.95),(182,-53.7),(191.2,-52.15),(204.95,-51.55),(211.85,-47.55),(218.75,-43.7),(227.9,-41.05),(239.4,-41.05),(248.6,-43.9),(261.2,-44.1),(268.1,-47.35),(278.4,-48.3),(283.6,-47.75),(287.6,-54.45),(287.05,-55.8),(278.4,-57.9),(266.95,-57.3),(254.3,-60.75),(249.75,-63.25),(253.75,-67.45),(248.6,-69.35),(245.7,-69.35),(245.15,-67.45),(234.8,-66.3),(221,-64.6),(200.35,-65.35),(196.35,-64.95),(195.2,-66.9),(182,-66.9),(177.4,-64.2),(169.35,-61.9),(159.05,-61.7),(151,-62.5),(146.4,-65.35),(140.1,-65.35),(138.35,-63.45),(129.75,-63.45),(123.45,-63.65),(120,-63.25)]
H_B95 = [(132.05,-58.25),(136.05,-54.45),(144.1,-53.7),(151,-55.8),(160.2,-56.35),(165.35,-57.7),(182,-54.45),(191.2,-52.9),(204.95,-52.35),(218.75,-44.5),(227.9,-42.2),(239.4,-42.2),(248.6,-44.9),(261.2,-45.05),(268.1,-48.15),(279.55,-50.25),(284.15,-49.65),(287.6,-54.45),(285.3,-56.35),(277.3,-57.1),(266.95,-56.75),(254.3,-60),(246.3,-62.5),(244.55,-67.25),(234.8,-65.75),(221,-64.2),(195.75,-64.75),(195.2,-66.1),(182,-66.1),(177.4,-63.65),(169.35,-61.35),(159.05,-60.55),(151,-61.7),(147.55,-63.25),(145.85,-65.15),(143.55,-65.15),(144.1,-62.85),(135.5,-61.7),(132.05,-62.1)]
H_B95_W = [(120,-60.75),(121.7,-60.75),(121.7,-62.1),(120,-62.1)]
H_B99_L = [(148.7,-59),(151.9,-59.8),(151,-62.1),(148.7,-62.3),(145.5,-60.75)]
H_B99 = [(171.65,-59.8),(173.95,-57.9),(187.75,-54.45),(204.95,-52.55),(215.3,-48.7),(221,-46),(229.05,-42.6),(238.25,-42.6),(249.75,-46.8),(262.35,-48.5),(268.1,-51.55),(260.05,-57.1),(252,-59.4),(245.7,-62.5),(244,-66.1),(234.8,-65),(221,-64),(196.35,-64.6),(182,-65.55),(178.55,-64.2),(171.65,-60.95)]
H_B99_TIP = [(245.95,-67.1),(248.35,-67.25),(248.35,-69.35),(245.95,-69.35)]

LAYERS_A = [(C90,A_90),(C95,A_95),(C90,A_90_INNER),(C99,A_99),(C99,A_99_EAST),(C99,A_99_SMALL),(WHITE,A_NONE_TOP),(WHITE,A_NONE_DIAMOND)]
LAYERS_B = [(C90,FULL_NA),(WHITE,B_NONE_TOP),(C90,B_90_DOT),(WHITE,B_NONE_LEFT),(WHITE,B_NONE_SW),(C95,B_95),(C95,B_95_NOTCH),(C95,B_95_SE),(C90,B_90_S1),(WHITE,B_NONE_DIAMOND),(WHITE,B_NONE_SE),(WHITE,B_NONE_S1),(WHITE,B_NONE_S2),(C99,B_99_NW),(C99,B_99_W),(C99,B_99_MAIN),(C99,B_99_DOT),(C99,B_99_E),(C90,B_90_S2)]
LAYERS_C = [(C90,FULL_NA),(WHITE,C_NONE_TOP),(C90,C_90_DOT),(WHITE,C_NONE_SW),(C95,C_95),(C95,C_95_SW),(C99,C_99_MAIN),(C99,C_99_E),(C90,C_90_S)]
LAYERS_D = [(C95,D_95_NW),(C99,D_99_NW),(C99,D_99_NW2),(C90,D_90_MAIN),(C95,D_95_MAIN),(C90,D_90_SE),(C99,D_99_MAIN),(C95,D_95_PATCH),(C99,D_99_E),(C99,D_99_S),(C95,D_95_S2),(C99,D_99_S2),(WHITE,D_NONE_HOLE),(LAND,D_LAND_1),(LAND,D_LAND_2),(LAND,D_LAND_3),(LAND,D_LAND_4),(LAND,D_LAND_5),(C90,D_90_ISLE),(C95,D_95_ISLE),(C99,D_99_ISLE),(C90,D_90_DOT),(C90,D_90_DOT2)]
LAYERS_E = [(C90,E_90),(C95,E_95),(C99,E_99),(C99,E_99_W),(B90,E_B90_NE),(B95,E_B95_NE),(B99,E_B99_NE),(B90,E_B90),(B95,E_B95),(B99,E_B99)]
LAYERS_F = [(C90,F_90),(C95,F_95),(C95,F_95_W),(C99,F_99),(B90,F_B90_NE),(B95,F_B95_NE),(B99,F_B99_NE),(B90,F_B90),(B95,F_B95),(B95,F_B95_L),(B95,F_B95_W),(B99,F_B99_W),(B99,F_B99),(B99,F_B99_TIP)]
LAYERS_G = [(C90,G_90_W),(C95,G_95_W),(C90,G_90),(C95,G_95),(C99,G_99),(C90,G_90_W2),(C90,G_90_E),(B90,G_B90_NE),(B95,G_B95_NE),(B99,G_B99_NE),(B90,G_B90),(B95,G_B95),(B95,G_B95_L),(B95,G_B95_W),(B99,G_B99_L),(B99,G_B99),(B95,G_B95_D1),(B95,G_B95_D2),(B95,G_B95_D3)]
LAYERS_H = [(C90,H_90),(C95,H_95_W),(C95,H_95),(C99,H_99),(B90,H_B90_NE),(B95,H_B95_NE),(B99,H_B99_NE),(B90,H_B90),(B95,H_B95),(B95,H_B95_W),(B99,H_B99_L),(B99,H_B99),(B99,H_B99_TIP)]
GAPS = [GAP_NZ_N, GAP_NZ_S, GAP_TAS, GAP_BASS, GAP_AUS_1, GAP_AUS_2]
LANDS = [AUSTRALIA, TASMANIA, NZ_NORTH, NZ_SOUTH, S_AMERICA, ANT_EAST, ANT_WEST, ROSS_ISLE]

# ---------- layout (pixel boxes: left, right, top, bottom) ----------
W, H = 2560, 4262
sns.set_theme(style="ticks")
plt.rcParams["font.family"] = ["Liberation Sans", "DejaVu Sans"]
px = 72 / 100
fig = plt.figure(figsize=(W / 100, H / 100), dpi=100, facecolor="white")


def make_ax(box):
    l, r, t, b = box
    return fig.add_axes([l / W, 1 - b / H, (r - l) / W, (b - t) / H], facecolor="white")


def poly(ax, pts, color, z=2):
    xs, ys = zip(*pts)
    ax.fill(xs, ys, color=color, lw=0, zorder=z)


def line(ax, pts, z=6, lw=3.6):
    xs, ys = zip(*pts)
    sns.lineplot(x=list(xs), y=list(ys), sort=False, estimator=None, color="black",
                 linewidth=lw * px, ax=ax, legend=False, zorder=z)


def style(ax, xlim, ylim, xt, xl, xm, yt, yl, ym, ylen, ypad, xpad):
    ax.set_xlim(*xlim)
    ax.set_ylim(*ylim)
    ax.xaxis.set_major_locator(FixedLocator(xt))
    ax.yaxis.set_major_locator(FixedLocator(yt))
    ax.xaxis.set_minor_locator(FixedLocator(xm))
    ax.yaxis.set_minor_locator(FixedLocator(ym))
    ax.set_xticklabels(xl, fontsize=43 * px, color="#222222")
    ax.set_yticklabels(yl, fontsize=43 * px, color="#222222")
    ax.tick_params(axis="x", which="major", length=27 * px, width=2.4 * px, pad=xpad * px, color="black")
    ax.tick_params(axis="x", which="minor", length=16 * px, width=2.4 * px, color="black")
    ax.tick_params(axis="y", which="major", length=ylen * px, width=2.4 * px, pad=ypad * px, color="black")
    ax.tick_params(axis="y", which="minor", length=ylen * 0.55 * px, width=2.4 * px, color="black")
    ax.set_xlabel("")
    ax.set_ylabel("")
    for s in ax.spines.values():
        s.set_visible(True)
        s.set_linewidth(4 * px)
        s.set_color("black")
        s.set_zorder(10)


NA_PANELS = [((177, 1097, 132, 904), LAYERS_A, TITLES_LEFT[0], 190, 63),
             ((177, 1103, 1141, 1911), LAYERS_B, TITLES_LEFT[1], 190, 1090),
             ((177, 1103, 2151, 2924), LAYERS_C, TITLES_LEFT[2], 201, 2088),
             ((180, 1108, 3165, 3938), LAYERS_D, TITLES_LEFT[3], 190, 3110)]
SP_PANELS = [((1540, 2466, 132, 904), LAYERS_E, TITLES_RIGHT[0], 1558, 63),
             ((1538, 2464, 1143, 1914), LAYERS_F, TITLES_RIGHT[1], 1563, 1090),
             ((1544, 2467, 2148, 2919), LAYERS_G, TITLES_RIGHT[2], 1571, 2088),
             ((1541, 2467, 3167, 3937), LAYERS_H, TITLES_RIGHT[3], 1577, 3110)]

for box, layers, title, tx, ty in NA_PANELS:
    ax = make_ax(box)
    for color, pts in layers:
        poly(ax, pts, color)
    line(ax, NA_WEST_COAST)
    line(ax, NA_EAST_COAST)
    style(ax, (-125, -95), (20, 40), NA_XTICKS, NA_XLABELS, NA_XMINOR,
          NA_YTICKS, NA_YLABELS, [y for y in range(20, 41) if y % 5], 30, 18, 32)
    fig.text(tx / W, 1 - ty / H, title, fontsize=61 * px, color="#111111", ha="left", va="center")

for box, layers, title, tx, ty in SP_PANELS:
    ax = make_ax(box)
    for color, pts in layers:
        poly(ax, pts, color, z=2)
    for pts in GAPS:
        poly(ax, pts, WHITE, z=3)
    for pts in LANDS:
        poly(ax, pts, LAND, z=4)
    poly(ax, PENINSULA_95, B95, z=5)
    poly(ax, PENINSULA_99, B99, z=5)
    for pts in LANDS + [PEN_LOOP]:
        line(ax, list(pts) + [pts[0]])
    line(ax, NEW_CALEDONIA, lw=5)
    line(ax, CHATHAM, lw=5)
    style(ax, (120, 300), (-80, -20), SP_XTICKS, SP_XLABELS, [x for x in range(130, 300, 10) if (x - 120) % 30],
          SP_YTICKS, SP_YLABELS, [-75, -65, -55, -45, -35, -25], 27, 18, 26)
    fig.text(tx / W, 1 - ty / H, title, fontsize=61 * px, color="#111111", ha="left", va="center")

# ---------- label bars ----------
for box, cols in (((147, 1144, 4096, 4160), CB_LEFT), ((1500, 2495, 4096, 4165), CB_RIGHT)):
    ax = make_ax(box)
    sns.heatmap(np.arange(len(cols)).reshape(1, -1), cmap=ListedColormap(cols), cbar=False,
                linewidths=2.4 * px, linecolor="black", ax=ax, xticklabels=False, yticklabels=False)
    ax.set_xticks(range(1, len(cols)))
    ax.set_xticklabels(CB_LABELS, fontsize=41 * px, color="#222222", rotation=0)
    ax.set_yticks([])
    ax.tick_params(axis="x", length=0, pad=22 * px)
    for name, s in ax.spines.items():
        s.set_visible(True)
        s.set_color("black")
        s.set_linewidth((5 if name in ("top", "bottom") else 2) * px)

fig.savefig("out.png", dpi=100, facecolor="white")
